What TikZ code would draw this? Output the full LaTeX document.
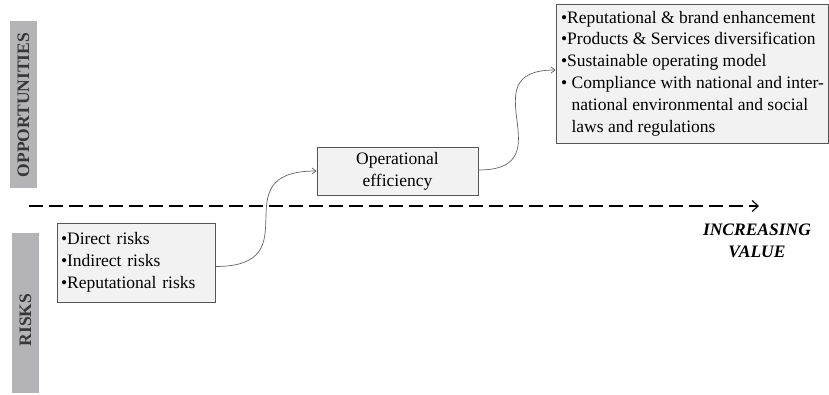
\documentclass[tikz,border=0pt]{standalone}
\usepackage{fontspec}
\setmainfont{Liberation Serif}
\usetikzlibrary{arrows.meta}
\definecolor{barfill}{RGB}{180,180,183}
\definecolor{bartext}{RGB}{55,55,58}
\definecolor{boxfill}{RGB}{242,242,243}
\definecolor{boxline}{RGB}{85,85,85}
\definecolor{linkgray}{RGB}{100,100,100}
\tikzset{
  txt/.style={font=\fontsize{17.5}{21.8}\selectfont},
  sidebar/.style={fill=barfill, draw=none},
  sidelabel/.style={txt, font=\fontsize{17.5}{21.8}\selectfont\bfseries, text=bartext, rotate=90},
  infobox/.style={txt, draw=boxline, fill=boxfill, line width=0.9pt, inner xsep=5pt, inner ysep=3pt},
  link/.style={draw=linkgray, line width=0.7pt, -{Straight Barb[length=4pt,width=6pt]}},
  axis/.style={line width=2.6pt, dash pattern=on 14pt off 6pt, -{Straight Barb[length=6pt,width=11pt,line width=1.2pt]}},
}
\begin{document}
\begin{tikzpicture}[x=1pt,y=-1pt]
  \useasboundingbox[fill=white] (0,0) rectangle (829,395);

  % side bars
  \fill[sidebar] (10,21) rectangle (37,188);
  \node[sidelabel] (opplabel) at (23.5,105) {OPPORTUNITIES};
  \fill[sidebar] (12,233) rectangle (39,393);
  \node[sidelabel] (risklabel) at (25.5,320) {RISKS};

  % value axis
  \coordinate (axisstart) at (29,206);
  \coordinate (axisend) at (759,206);
  \draw[axis] (axisstart) -- (axisend);
  \node[txt, font=\fontsize{17.5}{21.8}\selectfont\bfseries\itshape, align=center] (value) at (757,241) {INCREASING\\VALUE};

  % boxes
  \node[infobox, text width=150pt, inner xsep=4pt, minimum height=79pt, align=left] (risks) at (136,262.5)
    {•Direct risks\\•Indirect risks\\•Reputational risks};
  \node[infobox, text width=151pt, minimum height=48pt, align=center] (ops) at (397.5,171)
    {Operational\\efficiency};
  \node[infobox, minimum width=271pt, minimum height=139pt, align=left] (opps) at (692.5,73.5)
    {•Reputational \& brand enhancement\\
     •Products \& Services diversification\\
     •Sustainable operating model\\
     • Compliance with national and inter-\\
     \phantom{• }national environmental and social\\
     \phantom{• }laws and regulations};

  % links
  \draw[link] ([yshift=-4pt]risks.east) to[out=0,in=180,looseness=1.8] (ops.west);
  \draw[link] ([yshift=1pt]ops.east) to[out=0,in=180,looseness=1.8] ([yshift=3.5pt]opps.west);
\end{tikzpicture}
\end{document}
